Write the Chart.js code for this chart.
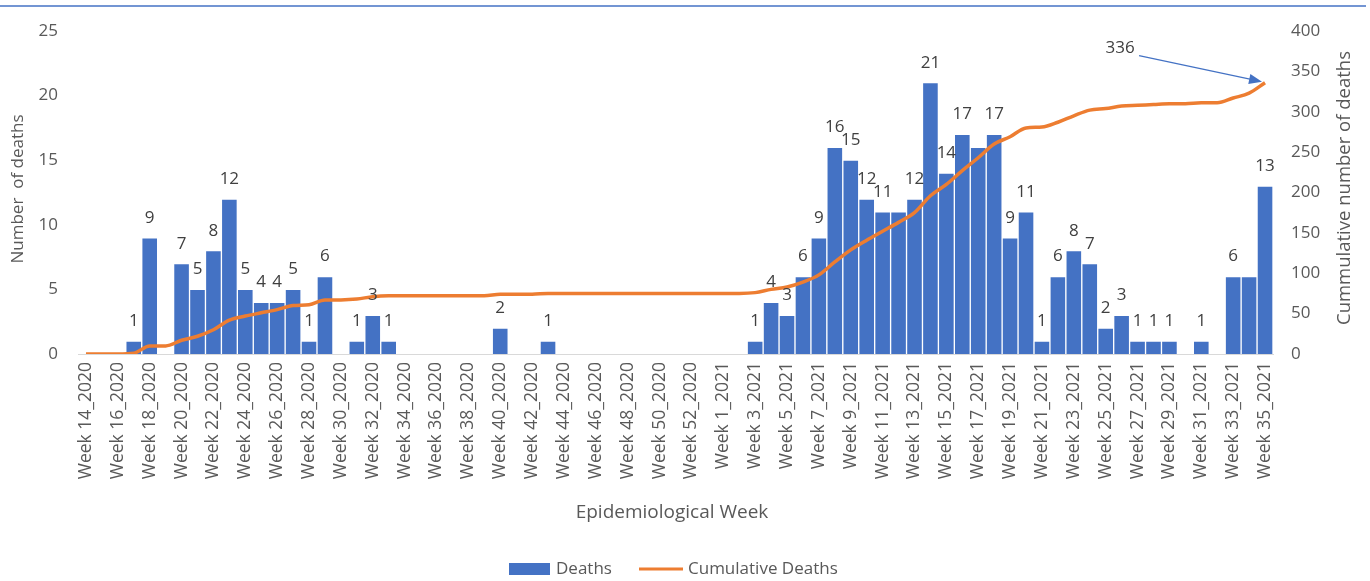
<!DOCTYPE html>
<html>
<head>
<meta charset="utf-8">
<script src="https://cdn.jsdelivr.net/npm/chart.js@4"></script>
<style>
  html, body { margin: 0; padding: 0; background: #fff; }
  #wrap { width: 1370px; height: 581px; position: relative; }
</style>
</head>
<body>
<div id="wrap"><canvas id="myChart"></canvas></div>
<script>
var weeks = [
  "Week 14_2020", "Week 15_2020", "Week 16_2020", "Week 17_2020", "Week 18_2020",
  "Week 19_2020", "Week 20_2020", "Week 21_2020", "Week 22_2020", "Week 23_2020",
  "Week 24_2020", "Week 25_2020", "Week 26_2020", "Week 27_2020", "Week 28_2020",
  "Week 29_2020", "Week 30_2020", "Week 31_2020", "Week 32_2020", "Week 33_2020",
  "Week 34_2020", "Week 35_2020", "Week 36_2020", "Week 37_2020", "Week 38_2020",
  "Week 39_2020", "Week 40_2020", "Week 41_2020", "Week 42_2020", "Week 43_2020",
  "Week 44_2020", "Week 45_2020", "Week 46_2020", "Week 47_2020", "Week 48_2020",
  "Week 49_2020", "Week 50_2020", "Week 51_2020", "Week 52_2020", "Week 53_2020",
  "Week 1_2021", "Week 2_2021", "Week 3_2021", "Week 4_2021", "Week 5_2021",
  "Week 6_2021", "Week 7_2021", "Week 8_2021", "Week 9_2021", "Week 10_2021",
  "Week 11_2021", "Week 12_2021", "Week 13_2021", "Week 14_2021", "Week 15_2021",
  "Week 16_2021", "Week 17_2021", "Week 18_2021", "Week 19_2021", "Week 20_2021",
  "Week 21_2021", "Week 22_2021", "Week 23_2021", "Week 24_2021", "Week 25_2021",
  "Week 26_2021", "Week 27_2021", "Week 28_2021", "Week 29_2021", "Week 30_2021",
  "Week 31_2021", "Week 32_2021", "Week 33_2021", "Week 34_2021", "Week 35_2021"
];

var deaths = [
  0, 0, 0, 1, 9, 0, 7, 5, 8, 12,
  5, 4, 4, 5, 1, 6, 0, 1, 3, 1,
  0, 0, 0, 0, 0, 0, 2, 0, 0, 1,
  0, 0, 0, 0, 0, 0, 0, 0, 0, 0,
  0, 0, 1, 4, 3, 6, 9, 16, 15, 12,
  11, 11, 12, 21, 14, 17, 16, 17, 9, 11,
  1, 6, 8, 7, 2, 3, 1, 1, 1, 0,
  1, 0, 6, 6, 13
];

var cumulativeDeaths = [
  0, 0, 0, 1, 10, 10, 17, 22, 30, 42,
  47, 51, 55, 60, 61, 67, 67, 68, 71, 72,
  72, 72, 72, 72, 72, 72, 74, 74, 74, 75,
  75, 75, 75, 75, 75, 75, 75, 75, 75, 75,
  75, 75, 76, 80, 83, 89, 98, 114, 129, 141,
  152, 163, 175, 196, 210, 227, 243, 260, 269, 280,
  281, 287, 295, 302, 304, 307, 308, 309, 310, 310,
  311, 311, 317, 323, 336
];

// bars whose value label is not shown in the original
var hiddenLabelWeeks = ["Week 12_2021", "Week 17_2021", "Week 34_2021"];

var seriesNames = ["Deaths", "Cumulative Deaths"];
var annotationText = "336";

var blue = "#4472C4";
var orange = "#ED7D31";
var textGrey = "#595959";
var fontName = "'Open Sans', 'Noto Sans', sans-serif";

var extras = {
  id: "extras",
  afterDatasetsDraw: function (chart) {
    var ctx = chart.ctx;
    ctx.save();

    // value labels over the bars
    var bars = chart.getDatasetMeta(0).data;
    ctx.font = "17px " + fontName;
    ctx.fillStyle = "#404040";
    ctx.textAlign = "center";
    ctx.textBaseline = "alphabetic";
    bars.forEach(function (bar, i) {
      if (deaths[i] === 0) return;
      if (hiddenLabelWeeks.indexOf(weeks[i]) >= 0) return;
      ctx.fillText(String(deaths[i]), bar.x, bar.y - 15);
    });

    // "336" callout with arrow to the last point
    var pts = chart.getDatasetMeta(1).data;
    var p = pts[pts.length - 1];
    ctx.fillStyle = "#404040";
    ctx.textBaseline = "middle";
    ctx.fillText(annotationText, p.x - 145, p.y - 35);
    var x0 = p.x - 126, y0 = p.y - 27;
    var x1 = p.x - 3, y1 = p.y - 1;
    var ang = Math.atan2(y1 - y0, x1 - x0);
    ctx.strokeStyle = blue;
    ctx.lineWidth = 1.2;
    ctx.beginPath();
    ctx.moveTo(x0, y0);
    ctx.lineTo(x1 - 10 * Math.cos(ang), y1 - 10 * Math.sin(ang));
    ctx.stroke();
    ctx.fillStyle = blue;
    ctx.beginPath();
    ctx.moveTo(x1, y1);
    ctx.lineTo(x1 - 13 * Math.cos(ang) + 5 * Math.sin(ang), y1 - 13 * Math.sin(ang) - 5 * Math.cos(ang));
    ctx.lineTo(x1 - 13 * Math.cos(ang) - 5 * Math.sin(ang), y1 - 13 * Math.sin(ang) + 5 * Math.cos(ang));
    ctx.closePath();
    ctx.fill();
    ctx.restore();
  },
  afterDraw: function (chart) {
    var ctx = chart.ctx;
    ctx.save();

    // thin blue rule along the top
    ctx.strokeStyle = blue;
    ctx.lineWidth = 1.5;
    ctx.beginPath();
    ctx.moveTo(0, 6);
    ctx.lineTo(1366, 6);
    ctx.stroke();

    // axis titles
    ctx.fillStyle = textGrey;
    ctx.textAlign = "center";
    ctx.textBaseline = "middle";
    ctx.font = "19px " + fontName;
    ctx.fillText("Epidemiological Week", 672, 513);

    ctx.font = "17px " + fontName;
    ctx.save();
    ctx.translate(18, 189);
    ctx.rotate(-Math.PI / 2);
    ctx.fillText("Number  of deaths", 0, 0);
    ctx.restore();

    ctx.font = "18.5px " + fontName;
    ctx.save();
    ctx.translate(1345, 188);
    ctx.rotate(-Math.PI / 2);
    ctx.fillText("Cummulative number of deaths", 0, 0);
    ctx.restore();

    // legend
    ctx.font = "17px " + fontName;
    ctx.textAlign = "left";
    ctx.fillStyle = blue;
    ctx.fillRect(509, 563, 41, 12);
    ctx.fillStyle = textGrey;
    ctx.fillText(seriesNames[0], 556, 569);
    ctx.strokeStyle = orange;
    ctx.lineWidth = 3;
    ctx.beginPath();
    ctx.moveTo(639, 569);
    ctx.lineTo(683, 569);
    ctx.stroke();
    ctx.fillText(seriesNames[1], 688, 569);

    ctx.restore();
  }
};

new Chart("myChart", {
  type: "bar",
  data: {
    labels: weeks,
    datasets: [
      {
        type: "bar",
        label: seriesNames[0],
        data: deaths,
        backgroundColor: blue,
        borderColor: "#ffffff",
        borderWidth: 1,
        borderSkipped: "bottom",
        barPercentage: 1,
        categoryPercentage: 1,
        yAxisID: "y",
        order: 2
      },
      {
        type: "line",
        label: seriesNames[1],
        data: cumulativeDeaths,
        borderColor: orange,
        borderWidth: 3.5,
        pointRadius: 0,
        cubicInterpolationMode: "monotone",
        fill: false,
        yAxisID: "y1",
        order: 1
      }
    ]
  },
  options: {
    responsive: true,
    maintainAspectRatio: false,
    animation: false,
    layout: { padding: { top: 31, bottom: 77, left: 0, right: 0 } },
    plugins: {
      legend: { display: false },
      tooltip: { enabled: false }
    },
    scales: {
      x: {
        grid: { display: false, drawTicks: false },
        border: { display: true, color: "#D9D9D9", width: 1 },
        ticks: {
          autoSkip: false,
          maxRotation: 90,
          minRotation: 90,
          padding: 8,
          color: textGrey,
          font: { family: fontName, size: 17.5 },
          callback: function (val, i) {
            return i % 2 === 0 ? weeks[i] : "";
          }
        },
        afterFit: function (scale) { scale.height = 150; }
      },
      y: {
        position: "left",
        min: 0,
        max: 25,
        grid: { display: false, drawTicks: false },
        border: { display: false },
        ticks: {
          stepSize: 5,
          padding: 20,
          color: textGrey,
          font: { family: fontName, size: 17 }
        },
        afterFit: function (scale) { scale.width = 78; }
      },
      y1: {
        position: "right",
        min: 0,
        max: 400,
        grid: { display: false, drawTicks: false },
        border: { display: false },
        ticks: {
          stepSize: 50,
          padding: 18,
          color: textGrey,
          font: { family: fontName, size: 17 }
        },
        afterFit: function (scale) { scale.width = 97; }
      }
    }
  },
  plugins: [extras]
});
</script>
</body>
</html>
